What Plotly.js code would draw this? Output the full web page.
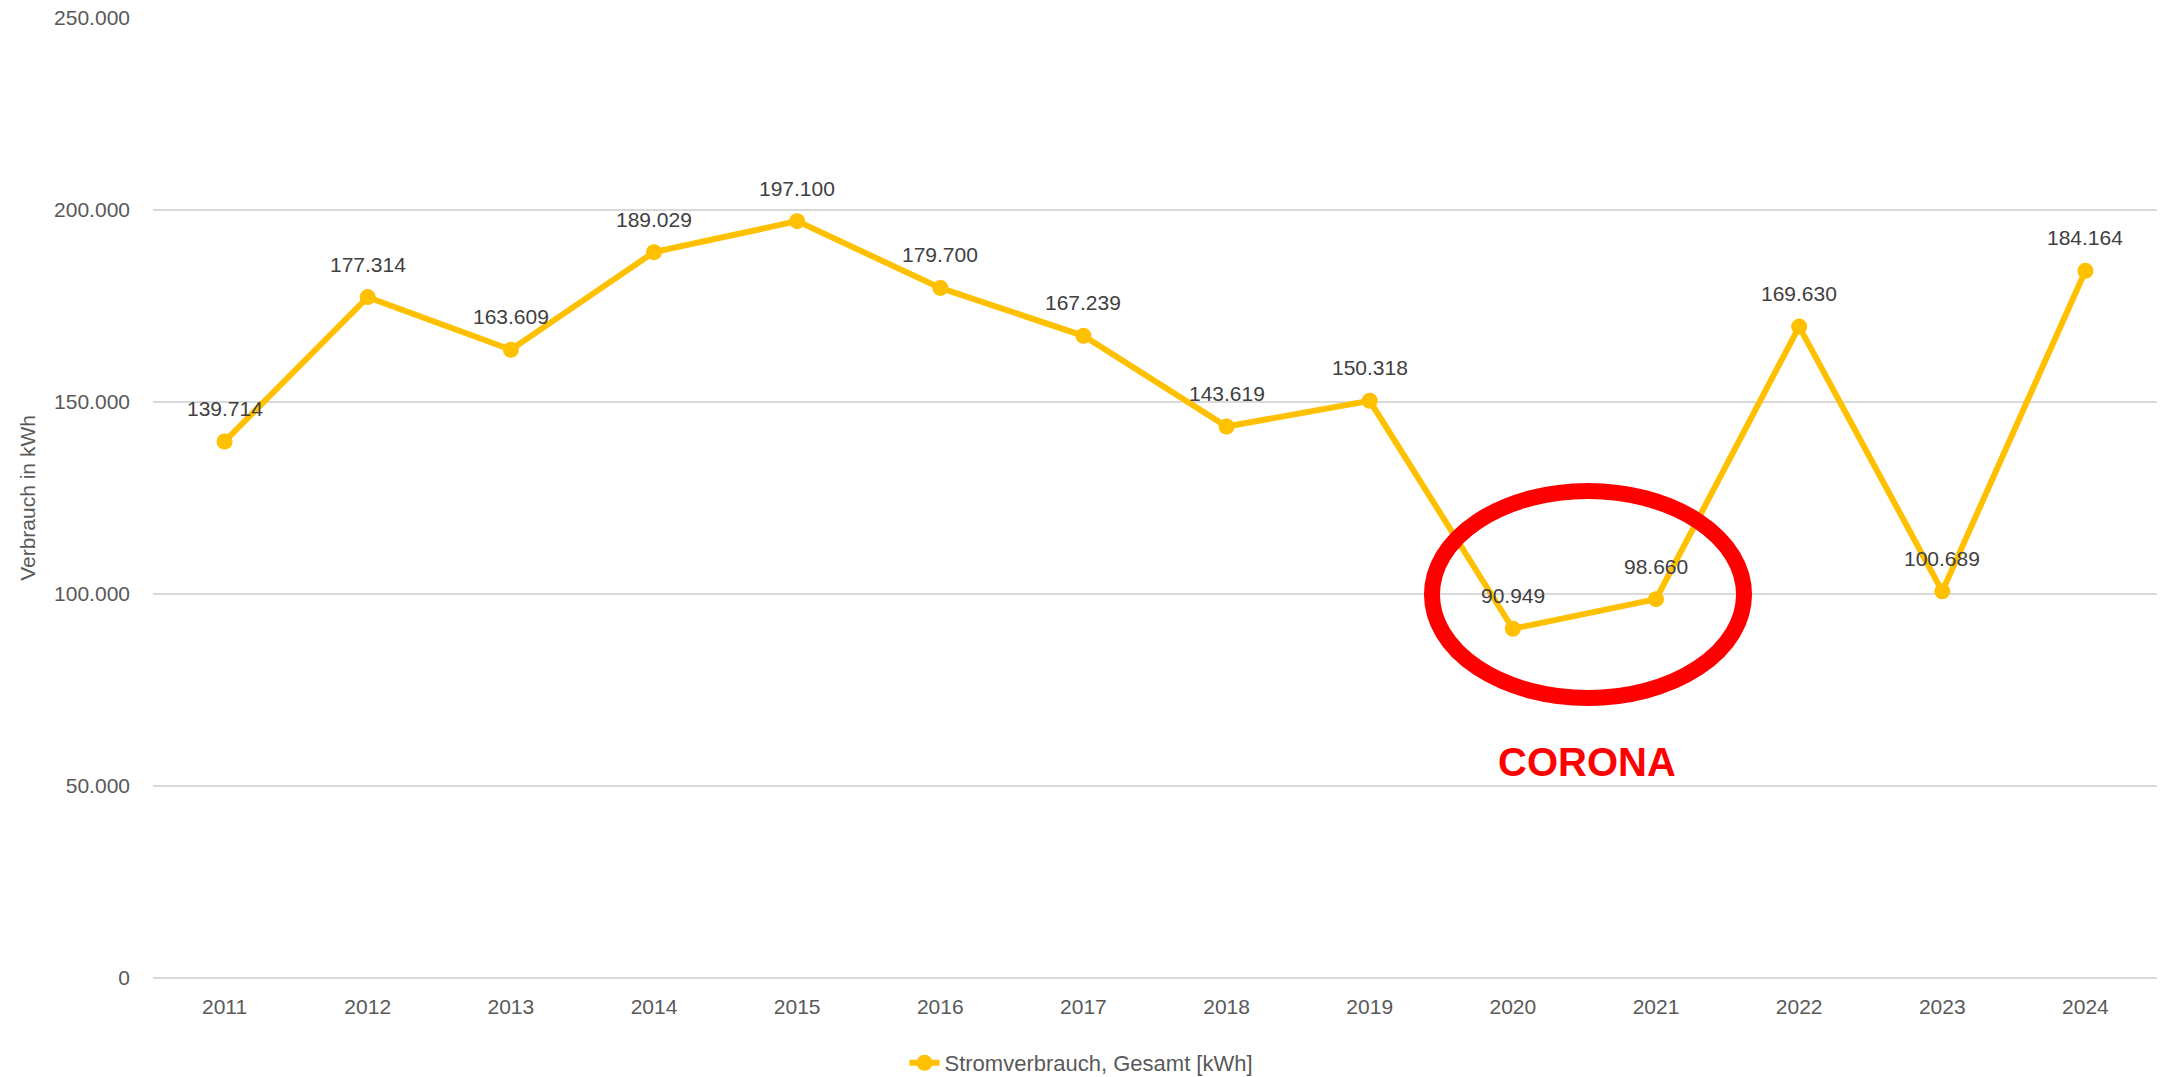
<!DOCTYPE html>
<html>
<head>
<meta charset="utf-8">
<script src="https://cdn.plot.ly/plotly-3.0.1.min.js"></script>
<style>html,body{margin:0;padding:0;background:#fff}#chart{width:2163px;height:1077px}</style>
</head>
<body>
<div id="chart"></div>
<script>
// Data
const years = ["2011","2012","2013","2014","2015","2016","2017","2018","2019","2020","2021","2022","2023","2024"];
const consumption = [139714,177314,163609,189029,197100,179700,167239,143619,150318,90949,98660,169630,100689,184164];
const seriesName = "Stromverbrauch, Gesamt [kWh]";
const yTickVals = [0,50000,100000,150000,200000,250000];
const coronaLabel = "CORONA";

function fmt(v){ return String(v).replace(/\B(?=(\d{3})+(?!\d))/g, "."); }

const FONT = "Liberation Sans, Arial, sans-serif";
const lineColor = "#FFC000";

const trace = {
  x: years, y: consumption, type: "scatter", mode: "lines+markers",
  name: seriesName,
  line: {color: lineColor, width: 6},
  marker: {color: lineColor, size: 16},
  hoverinfo: "skip"
};

const labelAnns = years.map((yr, i) => ({
  x: i, y: consumption[i], xref: "x", yref: "y",
  text: fmt(consumption[i]), showarrow: false, yshift: 33,
  xanchor: "center", yanchor: "middle",
  font: {family: FONT, size: 21, color: "#404040"}
}));

const coronaAnn = {
  x: 9.52, y: 56250, xref: "x", yref: "y",
  text: "<b>" + coronaLabel + "</b>", showarrow: false,
  font: {family: FONT, size: 40, color: "#FF0000"},
  xanchor: "center", yanchor: "middle"
};

const layout = {
  width: 2163, height: 1077,
  margin: {l: 153, r: 6, t: 18, b: 99, autoexpand: false},
  paper_bgcolor: "#fff", plot_bgcolor: "#fff",
  separators: ",.",
  showlegend: true,
  legend: {orientation: "h", xref: "container", x: 0.5, xanchor: "center", yref: "container", y: 0.013, yanchor: "middle",
    font: {family: FONT, size: 22, color: "#595959"}},
  xaxis: {
    type: "category", range: [-0.5, 13.5], showgrid: false, zeroline: false,
    showline: false, ticks: "", ticklabelstandoff: 14, automargin: false,
    tickfont: {family: FONT, size: 21, color: "#595959"}, fixedrange: true
  },
  yaxis: {
    range: [0, 250000], tickvals: yTickVals, tickformat: ",d",
    showgrid: true, gridcolor: "#d9d9d9", gridwidth: 1.5,
    zeroline: true, zerolinecolor: "#d9d9d9", zerolinewidth: 1.5,
    showline: false, ticks: "", ticklabelstandoff: 22,
    tickfont: {family: FONT, size: 21, color: "#595959"},
    title: {text: "Verbrauch in kWh", standoff: 12, font: {family: FONT, size: 21, color: "#595959"}},
    automargin: false, fixedrange: true
  },
  annotations: labelAnns.concat([coronaAnn]),
  shapes: [{
    type: "circle", xref: "x", yref: "y",
    x0: 8.435, x1: 10.615, y0: 72917, y1: 126823,
    line: {color: "#FF0000", width: 16}, fillcolor: "rgba(0,0,0,0)"
  }]
};

Plotly.newPlot("chart", [trace], layout, {displayModeBar: false, staticPlot: true});
</script>
</body>
</html>
